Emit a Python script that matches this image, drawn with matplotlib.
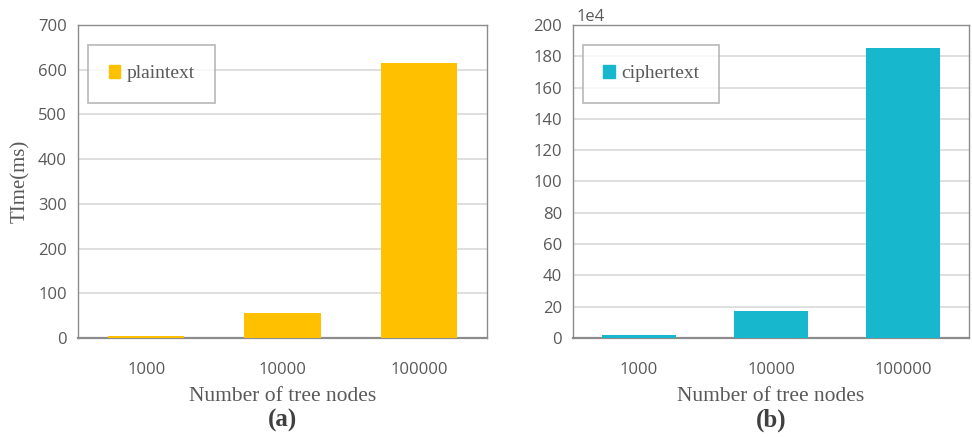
import matplotlib
matplotlib.use('Agg')
from matplotlib import pyplot as plt
from matplotlib.patches import Patch

nodes = ['1000', '10000', '100000']
plain_ms = [5, 57, 615]
cipher_1e4 = [1.7, 17, 185.5]

plain_color = '#FFC000'
cipher_color = '#17B8CE'
grid_color = '#D9D9D9'
spine_color = '#8C8C8C'
text_gray = '#595959'

fig = plt.figure(figsize=(9.72, 4.37), dpi=100)
ax1 = fig.add_axes([78/972, 1-338/437, 409/972, 313/437])
ax2 = fig.add_axes([573/972, 1-338/437, 396/972, 313/437])


def style(ax, values, color, label, ymax, step, panel):
    x = range(len(nodes))
    ax.bar(x, values, width=0.56, color=color, zorder=3)
    ax.set_xlim(-0.5, len(nodes) - 0.5)
    ax.set_ylim(0, ymax)
    ax.set_yticks(range(0, ymax + 1, step))
    ax.set_xticks(list(x))
    ax.set_xticklabels(nodes)
    ax.yaxis.grid(True, color=grid_color, linewidth=1.2, zorder=0)
    ax.set_axisbelow(True)
    for s in ax.spines.values():
        s.set_color(spine_color)
        s.set_linewidth(1.0)
    ax.spines['bottom'].set_linewidth(1.6)
    ax.tick_params(length=0, labelsize=12, colors=text_gray)
    ax.tick_params(axis='x', pad=17)
    ax.tick_params(axis='y', pad=8)
    for t in ax.get_xticklabels() + ax.get_yticklabels():
        t.set_fontfamily('Open Sans')
    ax.set_xlabel('Number of tree nodes', fontfamily='Liberation Serif',
                  fontsize=15.5, color=text_gray, labelpad=7)
    leg = ax.legend(handles=[Patch(color=color, label=label)], loc='upper left',
                    bbox_to_anchor=(0.025, 0.936), borderaxespad=0, fancybox=False,
                    prop={'family': 'Liberation Serif', 'size': 14},
                    handlelength=0.6, handleheight=0.6, handletextpad=0.3,
                    borderpad=1.05, labelcolor=text_gray)
    leg.get_frame().set_edgecolor('#A6A6A6')
    leg.get_frame().set_linewidth(1.2)
    ax.text(0.5, -0.262, panel, transform=ax.transAxes, ha='center', va='center',
            fontfamily='Liberation Serif', fontweight='bold', fontsize=18,
            color='#404040')


style(ax1, plain_ms, plain_color, 'plaintext', 700, 100, '(a)')
style(ax2, cipher_1e4, cipher_color, 'ciphertext', 200, 20, '(b)')

ax1.set_ylabel('TIme(ms)', fontfamily='Liberation Serif', fontsize=15,
               color=text_gray, labelpad=6)
ax2.text(0.01, 1.0, '1e4', transform=ax2.transAxes, ha='left', va='bottom',
         fontfamily='Open Sans', fontsize=12, color=text_gray)

plt.savefig('out.png', dpi=100)
